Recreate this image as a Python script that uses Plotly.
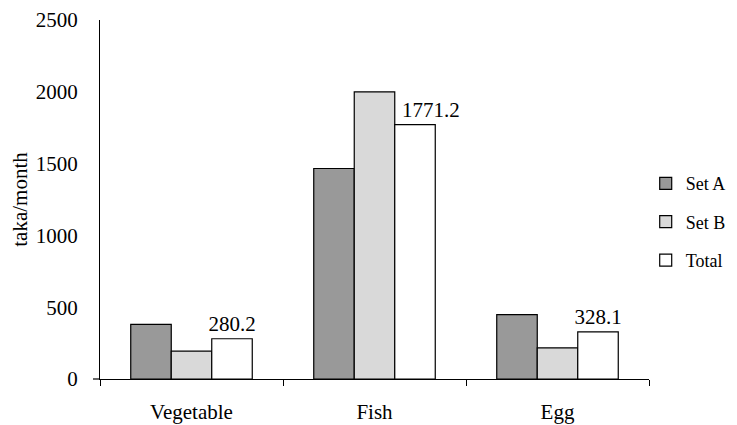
import plotly.graph_objects as go

categories = ["Vegetable", "Fish", "Egg"]
set_a = [381, 1466, 448]
set_b = [194, 2000, 217]
total = [280.2, 1771.2, 328.1]
total_labels = ["280.2", "\u00a0" * 6 + "1771.2", "328.1"]
y_ticks = [0, 500, 1000, 1500, 2000, 2500]

FONT = "Liberation Serif, Times New Roman, serif"
FS = 21

fig = go.Figure()
fig.add_trace(go.Bar(name="Set A", x=categories, y=set_a, legendgroup="a",
                     marker=dict(color="#999999", line=dict(color="black", width=1.2))))
fig.add_trace(go.Bar(name="Set B", x=categories, y=set_b, legendgroup="b",
                     marker=dict(color="#d9d9d9", line=dict(color="black", width=1.2))))
fig.add_trace(go.Bar(name="Total", x=categories, y=total, legendgroup="c",
                     text=total_labels, textposition="outside", cliponaxis=False,
                     constraintext="none",
                     textfont=dict(family=FONT, size=FS, color="black"),
                     marker=dict(color="white", line=dict(color="black", width=1.2))))

# page body adds an 8px offset, so the figure is 8px smaller and margins shifted
fig.update_layout(
    width=729, height=417,
    margin=dict(l=92, r=88, t=12, b=46, autoexpand=False),
    paper_bgcolor="white", plot_bgcolor="white",
    barmode="group", bargap=0.336, bargroupgap=0,
    font=dict(family=FONT, size=FS, color="black"),
    showlegend=True,
    legend=dict(x=0.994, y=0.437, yanchor="middle", xanchor="left",
                tracegroupgap=12, font=dict(family=FONT, size=18),
                bgcolor="rgba(0,0,0,0)"),
    xaxis=dict(showline=True, linecolor="black", linewidth=1.2,
               ticks="outside", tickson="boundaries", ticklen=6,
               tickcolor="black", showgrid=False, zeroline=False,
               ticklabelstandoff=14,
               automargin=False, tickfont=dict(family=FONT, size=FS)),
    yaxis=dict(range=[0, 2500], tickvals=y_ticks, showline=True,
               linecolor="black", linewidth=1.2, showgrid=False,
               zeroline=False, ticks="", ticklabelstandoff=17, automargin=False,
               ticklabeloverflow="allow",
               title=dict(text="taka/month", font=dict(family=FONT, size=FS), standoff=6),
               tickfont=dict(family=FONT, size=FS)),
)
fig.add_shape(type="line", xref="paper", yref="paper", x0=-0.0128, x1=0, y0=0, y1=0,
              line=dict(color="black", width=1.2))

fig.write_html("out.html")
